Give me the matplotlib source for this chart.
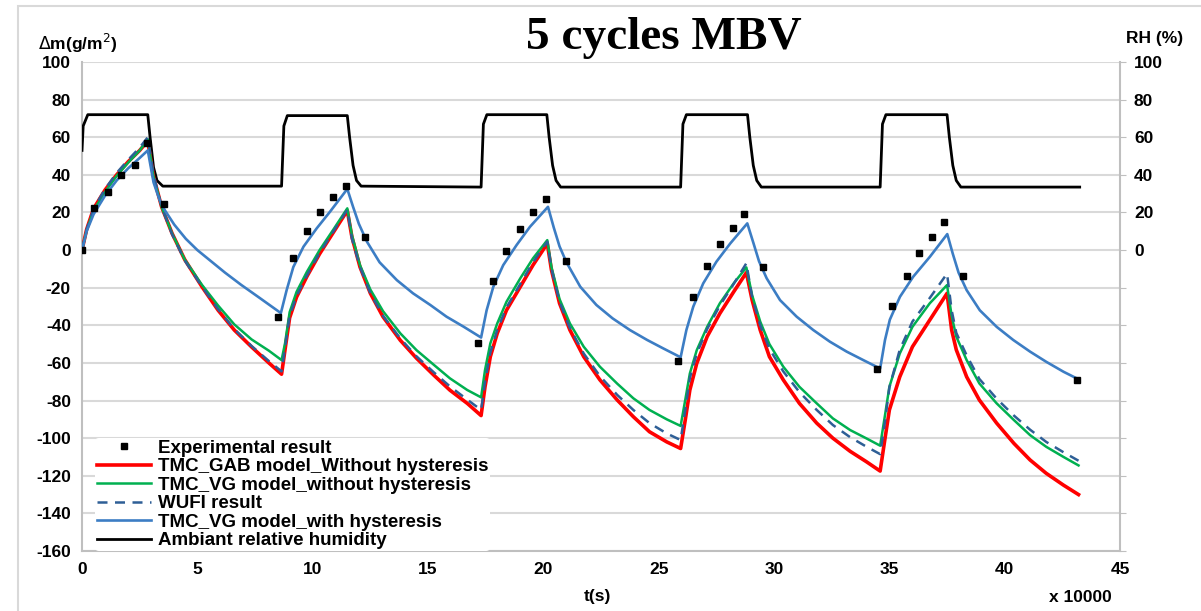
import matplotlib
matplotlib.use('agg')
import matplotlib.pyplot as plt
from matplotlib.patches import Rectangle

# temps (x 10000 s) et valeurs
t_exp = [0, 0.53, 1.11, 1.7, 2.3, 2.8, 3.57,
         8.51, 9.16, 9.74, 10.32, 10.9, 11.43, 12.27,
         17.18, 17.83, 18.38, 18.99, 19.54, 20.1, 20.97,
         25.85, 26.47, 27.08, 27.65, 28.2, 28.71, 29.5,
         34.47, 35.1, 35.75, 36.3, 36.84, 37.36, 38.17,
         43.14]
m_exp = [0, 22.5, 31, 40, 45.5, 57, 24.5,
         -35.5, -4, 10, 20.4, 28.4, 34.2, 7,
         -49.5, -16.5, -0.5, 11, 20, 27, -5.7,
         -59, -24.8, -8.5, 3, 12, 19, -9,
         -63, -29.8, -13.8, -1.4, 7, 15, -13.8,
         -69]

# temps communs pour les modèles sans hystérésis
t_mod = [0, 0.2, 0.5, 1, 1.5, 2, 2.5, 2.85, 3.1, 3.45, 3.9, 4.45, 5.2, 5.9, 6.6, 7.35, 8.1, 8.65,
         8.8, 9.0, 9.3, 9.75, 10.3, 10.9, 11.5,
         11.7, 12.05, 12.5, 13.05, 13.8, 14.5, 15.25, 15.95, 16.7, 17.3,
         17.47, 17.7, 18.0, 18.4, 19.0, 19.55, 20.17,
         20.35, 20.7, 21.15, 21.75, 22.45, 23.2, 23.9, 24.6, 25.35, 25.95,
         26.15, 26.35, 26.65, 27.1, 27.65, 28.25, 28.8,
         29.05, 29.4, 29.8, 30.4, 31.1, 31.85, 32.55, 33.3, 34.0, 34.6,
         34.8, 35.0, 35.45, 36.0, 36.75, 37.5,
         37.7, 37.9, 38.35, 38.9, 39.65, 40.4, 41.1, 41.8, 42.55, 43.2]
m_gab = [0, 11, 22, 32, 40, 47, 53, 58, 39, 23, 9, -5, -19.5, -32, -42.5, -51.5, -60, -66,
         -53, -36, -25, -14, -2, 9.5, 21,
         7, -9, -23, -35.5, -48, -57.5, -66.5, -74.5, -81.5, -88,
         -72.7, -56.7, -44.3, -32, -19.5, -8, 3.5,
         -10.6, -28.3, -42.5, -56.7, -69, -79.7, -88.6, -96.6, -102, -105.5,
         -90.4, -74.4, -60.2, -46, -33.7, -22.2, -12,
         -26.6, -42.5, -56.7, -69, -81.5, -92, -100, -107, -112.5, -117.5,
         -101, -85, -67.4, -51.4, -37.2, -23,
         -42.5, -53, -67.4, -79.7, -92, -102.8, -111.6, -118.7, -125, -130]
m_vg = [0, 10.5, 21, 31, 39.5, 46.5, 53, 59, 39, 23, 9, -5, -18.5, -29.5, -39.5, -47.5, -53.5, -58.5,
        -49.6, -33, -22.2, -11.5, 0, 11, 22.2,
        8, -8, -21, -32.5, -44.3, -53.2, -61, -68.2, -74.4, -78.3,
        -63.8, -49.6, -39, -27.5, -15, -4.4, 5.3,
        -9, -26, -39, -51.4, -62, -71, -78.8, -85, -90, -93.5,
        -79.7, -65.6, -53.2, -40.8, -28.3, -17.7, -9.2,
        -24, -38, -50, -62, -72.7, -81.5, -89.5, -95.7, -100.1, -104,
        -88.6, -72.7, -55, -40.8, -28.3, -18.6,
        -35, -46, -58.5, -70.9, -81.5, -90.4, -98.4, -104.6, -110, -114.5]
m_wufi = [0, 11, 22, 32.5, 41, 48, 54.5, 60, 40, 23, 8.5, -5.5, -19.5, -31.5, -42, -51, -59, -64.5,
          -52, -35, -24.5, -13.5, -1.5, 10, 21.5,
          6, -9, -23, -35, -47, -56.5, -65, -72.5, -79.5, -85,
          -70, -54.5, -42.5, -30.5, -18, -6.5, 4.5,
          -10, -27.5, -41.5, -55, -67, -77, -85, -92, -97.5, -101,
          -85, -68, -55, -42, -29.5, -18, -7,
          -25, -40, -52.5, -64.5, -75.5, -85, -93, -99.5, -104.5, -108.5,
          -92, -73, -53, -38, -25.5, -12.5,
          -32, -44, -56, -68.5, -79, -88, -95.5, -102, -107.5, -112]

# modèle VG avec hystérésis
t_hys = [0, 0.2, 0.5, 1, 1.5, 2, 2.5, 2.85, 3.1, 3.35, 3.6, 4.0, 4.5, 5.0, 5.5, 6.2, 6.9, 7.65, 8.62,
         8.87, 9.16, 9.6, 10.17, 10.75, 11.5,
         11.75, 12.0, 12.35, 12.9, 13.65, 14.35, 15.1, 15.8, 16.55, 17.3,
         17.54, 17.83, 18.26, 18.84, 19.42, 20.2,
         20.45, 20.7, 21.0, 21.6, 22.3, 23.0, 23.75, 24.5, 25.2, 25.95,
         26.2, 26.5, 26.93, 27.5, 28.1, 28.84,
         29.1, 29.35, 29.68, 30.26, 30.98, 31.7, 32.42, 33.15, 33.87, 34.6,
         34.81, 35.02, 35.46, 36.03, 36.76, 37.51,
         37.75, 38.0, 38.35, 38.92, 39.65, 40.37, 41.1, 41.8, 42.55, 43.2]
m_hys = [0, 10, 19, 29, 37, 43.5, 49, 53, 36, 27, 21, 13.5, 6, 0, -5, -12, -18.5, -25, -33.5,
         -21.3, -9, 1.8, 11.5, 20.4, 32.5,
         23, 14, 4.5, -6.5, -16, -23, -29.2, -35.4, -40.8, -46.5,
         -32, -19.5, -8, 2.7, 12.4, 23,
         12, 2, -6.5, -19.5, -29.2, -36.3, -42.5, -47.8, -52.3, -57,
         -42.5, -30, -17.7, -6.2, 3.5, 14.2,
         4, -6, -15, -26.6, -35.4, -42.5, -48.7, -54, -58.5, -63,
         -47.8, -37, -24.8, -14.2, -3.5, 8.5,
         -2, -12, -21.3, -32, -40.8, -47.8, -54, -59.4, -64.7, -68.7]

# humidité relative ambiante (%)
t_rh = [0, 0.05, 0.25, 2.85, 2.95, 3.1, 3.25, 3.5,
        8.65, 8.75, 8.9, 11.5, 11.6, 11.75, 11.9, 12.1,
        17.3, 17.4, 17.55, 20.15, 20.25, 20.4, 20.55, 20.75,
        25.95, 26.05, 26.2, 28.85, 28.95, 29.1, 29.25, 29.45,
        34.6, 34.7, 34.85, 37.5, 37.6, 37.75, 37.9, 38.1, 43.25]
rh = [53, 66, 72, 72, 60, 44, 37, 34,
      34, 66, 71.5, 71.5, 60, 45, 37, 34,
      33.5, 67, 72, 72, 60, 45, 37, 33.5,
      33.5, 67, 72, 72, 60, 45, 37, 33.5,
      33.5, 67, 72, 72, 60, 45, 37, 33.5, 33.5]

y_ticks = list(range(-160, 101, 20))
x_ticks = list(range(0, 46, 5))

plt.rcParams['font.family'] = ['Liberation Sans', 'DejaVu Sans']
plt.rcParams['axes.unicode_minus'] = False
fig = plt.figure(figsize=(12.01, 6.11), dpi=100)
fig.patches.append(Rectangle((0.015, -0.01), 0.99, 1.0, transform=fig.transFigure,
                             fill=False, edgecolor='#d9d9d9', lw=1.5))
ax = fig.add_axes([0.0683, 0.0982, 0.8643, 0.8003])
grid_c = '#d9d9d9'

ax.plot(t_rh, rh, color='black', lw=2, label='Ambiant relative humidity', zorder=3)
ax.plot(t_mod, m_gab, color='#ff0000', lw=2.6, label='TMC_GAB model_Without hysteresis', zorder=4)
ax.plot(t_mod, m_vg, color='#00b050', lw=1.8, label='TMC_VG model_without hysteresis', zorder=5)
ax.plot(t_mod, m_wufi, color='#2e5f96', lw=1.8, ls=(0, (4, 3)), label='WUFI result', zorder=6)
ax.plot(t_hys, m_hys, color='#3c7dc4', lw=1.9, label='TMC_VG model_with hysteresis', zorder=7)
ax.plot(t_exp, m_exp, ls='none', marker='s', ms=5, color='black', label='Experimental result', zorder=8)

ax.set_xlim(0, 45)
ax.set_ylim(-160, 100)
ax.set_xticks(x_ticks)
ax.set_yticks(y_ticks)
ax.grid(axis='y', color=grid_c, lw=1.5)
ax.set_axisbelow(True)
for side in ['top', 'right']:
    ax.spines[side].set_visible(False)
for side in ['left', 'bottom']:
    ax.spines[side].set_color('#bfbfbf')
    ax.spines[side].set_linewidth(1.5)
ax.tick_params(length=0, labelsize=12.5, pad=8)
for lab in ax.get_xticklabels() + ax.get_yticklabels():
    lab.set_fontweight('bold')

# axe droit RH
ax2 = ax.twinx()
ax2.set_ylim(-160, 100)
ax2.set_yticks(y_ticks)
ax2.set_yticklabels([str(v) if v >= 0 else '' for v in y_ticks])
for side in ['top', 'left', 'bottom']:
    ax2.spines[side].set_visible(False)
ax2.spines['right'].set_color('#bfbfbf')
ax2.spines['right'].set_linewidth(1.5)
ax2.tick_params(axis='y', length=4, color='#bfbfbf', labelsize=12.5, pad=6)
for lab in ax2.get_yticklabels():
    lab.set_fontweight('bold')

# légende
h, l = ax.get_legend_handles_labels()
order = [5, 1, 2, 3, 4, 0]
leg = ax.legend([h[i] for i in order], [l[i] for i in order], loc='lower left',
                bbox_to_anchor=(0.0125, 0.0), frameon=True, facecolor='white', edgecolor='none',
                framealpha=1, fontsize=13.5, handlelength=2.9, handletextpad=0.35,
                labelspacing=0.07, borderpad=0.1, borderaxespad=0.0)
for txt in leg.get_texts():
    txt.set_fontweight('bold')
leg.set_zorder(20)

fig.text(664 / 1201, 1 - 38 / 611, '5 cycles MBV', family='Liberation Serif', fontweight='bold',
         fontsize=34, ha='center', va='center')
fig.text(78 / 1201, 1 - 43 / 611, r'$\mathit{\Delta}$m(g/m$^2$)', fontweight='bold', fontsize=12.5,
         ha='center', va='center')
fig.text(1155 / 1201, 1 - 38 / 611, 'RH (%)', fontweight='bold', fontsize=12.5,
         ha='center', va='center')
fig.text(597 / 1201, 1 - 596 / 611, 't(s)', fontweight='bold', fontsize=12.5, ha='center', va='center')
fig.text(1080 / 1201, 1 - 597 / 611, 'x 10000', fontweight='bold', fontsize=12.5, ha='center', va='center')

fig.savefig('out.png', dpi=100)
